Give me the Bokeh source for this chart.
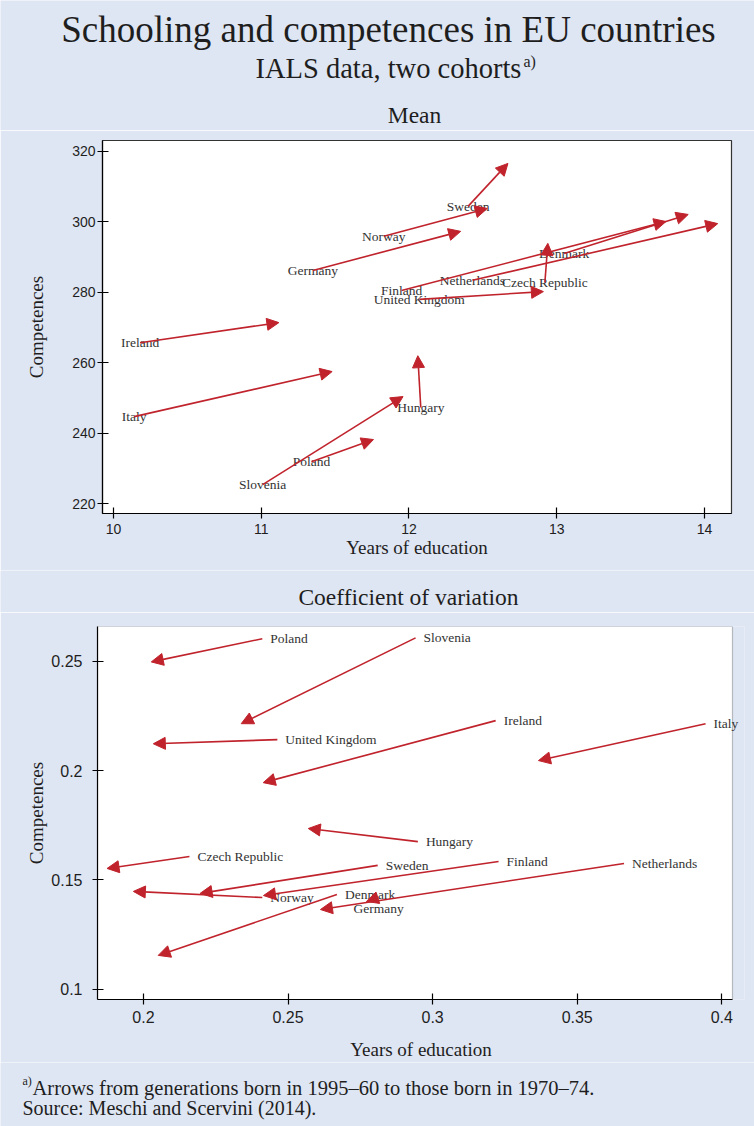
from bokeh.plotting import figure
from bokeh.layouts import column
from bokeh.models import (ColumnDataSource, Range1d, FixedTicker, Arrow, NormalHead, LabelSet,
                          BoxAnnotation)
from bokeh.core.properties import value
from bokeh.embed import file_html
from bokeh.resources import INLINE

# ---------------- data ----------------
mean_countries = ["Sweden", "Norway", "Germany", "Denmark", "Finland", "Netherlands",
                  "Czech Republic", "United Kingdom", "Ireland", "Italy", "Hungary",
                  "Poland", "Slovenia"]
mean_edu_old = [12.40, 11.83, 11.35, 13.05, 11.95, 12.43, 12.92, 12.07, 10.18, 10.14, 12.08, 11.34, 11.01]
mean_edu_young = [12.67, 12.53, 12.35, 13.89, 13.74, 14.09, 12.94, 12.91, 11.12, 11.48, 12.06, 11.76, 11.96]
mean_comp_old = [304.4, 295.9, 286.2, 291.0, 280.5, 283.4, 282.8, 278.0, 265.7, 244.7, 247.3, 231.9, 225.4]
mean_comp_young = [316.6, 303.8, 297.3, 302.1, 300.1, 299.5, 293.9, 280.2, 271.4, 257.5, 262.0, 238.2, 250.4]

cv_countries = ["Poland", "Slovenia", "United Kingdom", "Ireland", "Italy", "Hungary",
                "Czech Republic", "Sweden", "Finland", "Netherlands", "Denmark", "Norway", "Germany"]
cv_edu_old = [0.2411, 0.2941, 0.2463, 0.3218, 0.3944, 0.2949, 0.2159, 0.2810, 0.3228, 0.3662, 0.2669, 0.2411, 0.2813]
cv_edu_young = [0.2027, 0.2338, 0.2034, 0.2414, 0.3366, 0.2570, 0.1874, 0.2196, 0.2415, 0.2612, 0.2051, 0.1965, 0.2771]
cv_comp_old = [0.2604, 0.2608, 0.2142, 0.2229, 0.2215, 0.1675, 0.1607, 0.1566, 0.1584, 0.1575, 0.1433, 0.1419, 0.1419]
cv_comp_young = [0.2498, 0.2215, 0.2123, 0.1945, 0.2046, 0.1735, 0.1552, 0.1438, 0.1428, 0.1364, 0.1154, 0.1447, 0.1401]

mean_x_ticks = [10, 11, 12, 13, 14]
mean_y_ticks = [220, 240, 260, 280, 300, 320]
cv_x_ticks = [0.2, 0.25, 0.3, 0.35, 0.4]
cv_x_labels = ["0.2", "0.25", "0.3", "0.35", "0.4"]
cv_y_ticks = [0.1, 0.15, 0.2, 0.25]
cv_y_labels = ["0.1", "0.15", "0.2", "0.25"]

# ---------------- style ----------------
BG = "#dfe6f3"
SERIF = "Liberation Serif"
SANS = "Liberation Sans"
RED = "#c0232c"
TXT = "#1e1e1e"
LBL = "#333333"
W = 754


def text_fig(h):
    p = figure(width=W, height=h, x_range=Range1d(0, W), y_range=Range1d(h, 0),
               output_backend="svg", toolbar_location=None, title=None,
               x_axis_location=None, y_axis_location=None,
               min_border_left=0, min_border_right=0, min_border_top=0, min_border_bottom=0)
    p.frame_align = False
    p.grid.visible = False
    p.outline_line_color = None
    p.background_fill_color = BG
    p.border_fill_color = BG
    return p


def txt(p, x, y, s, size, align="left", font=SERIF):
    p.text(x=[x], y=[y], text=[s], text_font=value(font), text_font_size=size,
           text_align=align, text_baseline="middle", text_color=TXT)


def panel(h, bl, br, bt, bb, xr, yr, tick_size):
    p = figure(width=W, height=h, x_range=Range1d(*xr), y_range=Range1d(*yr),
               output_backend="svg", toolbar_location=None, title=None,
               min_border_left=bl, min_border_right=br, min_border_top=bt, min_border_bottom=bb)
    p.frame_align = False
    p.background_fill_color = "white"
    p.border_fill_color = BG
    p.grid.grid_line_color = None
    p.outline_line_color = "#333333"
    p.outline_line_width = 1.2
    for ax in (p.xaxis[0], p.yaxis[0]):
        ax.axis_line_color = "black"
        ax.axis_line_width = 1.2
        ax.major_tick_line_color = "black"
        ax.major_tick_line_width = 1.2
        ax.minor_tick_line_color = None
        ax.major_tick_in = 6
        ax.major_tick_out = 5
        ax.major_label_text_font = SANS
        ax.major_label_text_font_size = tick_size
        ax.major_label_text_color = TXT
        ax.axis_label_text_font = SERIF
        ax.axis_label_text_font_style = "normal"
        ax.axis_label_text_font_size = "19px"
        ax.axis_label_text_color = TXT
    p.xaxis.axis_label = "Years of education"
    p.yaxis.axis_label = "Competences"
    return p


def arrows(p, src):
    p.add_layout(Arrow(end=NormalHead(size=12, fill_color=RED, line_color=RED, line_width=1),
                       x_start="x0", y_start="y0", x_end="x1", y_end="y1", source=src,
                       line_color=RED, line_width=1.6))


def labels(p, src, align, dx, dy):
    p.add_layout(LabelSet(x="x0", y="y0", text="name", source=src, x_offset=dx, y_offset=dy,
                          text_font=value(SERIF), text_font_size="13.5px", text_align=align,
                          text_baseline="middle", text_color=LBL))


# ---------------- header ----------------
hdr = text_fig(130)
txt(hdr, 388, 29, "Schooling and competences in EU countries", "37px", "center")
txt(hdr, 255, 68, "IALS data, two cohorts", "28.5px", "left")
txt(hdr, 523, 61, "a)", "16px", "left")
txt(hdr, 414, 114, "Mean", "23.5px", "center")

# ---------------- top panel: mean ----------------
top = panel(440, 102, 23, 10, 57, (9.926, 14.183), (217.2, 323.1), "14px")
top.xaxis.ticker = FixedTicker(ticks=mean_x_ticks)
top.yaxis.ticker = FixedTicker(ticks=mean_y_ticks)
top.yaxis.major_label_standoff = 2
top.xaxis.major_label_standoff = 5
top.yaxis.axis_label_standoff = 22
top.xaxis.axis_label_standoff = 0
msrc = ColumnDataSource(dict(x0=mean_edu_old, y0=mean_comp_old, x1=mean_edu_young,
                             y1=mean_comp_young, name=mean_countries))
labels(top, msrc, "center", 0, 0)
arrows(top, msrc)

# ---------------- middle header ----------------
mid = text_fig(42)
txt(mid, 408, 26, "Coefficient of variation", "23.5px", "center")

# ---------------- bottom panel: coefficient of variation ----------------
# the frame is widened by a few pixels so that a label at the right edge is not clipped;
# the visible plot box is drawn as a box annotation on the reference limits
cv_x_lo, cv_x_hi, cv_y_lo, cv_y_hi = 0.1841, 0.4037, 0.0952, 0.266
bot = panel(450, 97, 10, 14, 63, (cv_x_lo, cv_x_hi + 12 / 2888), (cv_y_lo, cv_y_hi), "16px")
bot.background_fill_color = BG
bot.outline_line_color = None
bot.add_layout(BoxAnnotation(left=cv_x_lo, right=cv_x_hi, bottom=cv_y_lo, top=cv_y_hi,
                             fill_color="white", fill_alpha=1.0, line_color="#333333",
                             line_width=1.2, level="underlay"))
bot.xaxis.bounds = (cv_x_lo, cv_x_hi)
bot.xaxis.ticker = FixedTicker(ticks=cv_x_ticks)
bot.yaxis.ticker = FixedTicker(ticks=cv_y_ticks)
bot.xaxis.major_label_overrides = dict(zip(cv_x_ticks, cv_x_labels))
bot.yaxis.major_label_overrides = dict(zip(cv_y_ticks, cv_y_labels))
bot.yaxis.major_label_standoff = 10
bot.xaxis.major_label_standoff = 6
bot.yaxis.axis_label_standoff = 1
bot.xaxis.axis_label_standoff = 13
csrc = ColumnDataSource(dict(x0=cv_edu_old, y0=cv_comp_old, x1=cv_edu_young,
                             y1=cv_comp_young, name=cv_countries))
gi = cv_countries.index("Germany")
keep = [i for i in range(len(cv_countries)) if i != gi]
lab_main = ColumnDataSource(dict(x0=[cv_edu_old[i] for i in keep], y0=[cv_comp_old[i] for i in keep],
                                 name=[cv_countries[i] for i in keep]))
lab_ger = ColumnDataSource(dict(x0=[cv_edu_old[gi]], y0=[cv_comp_old[gi]], name=[cv_countries[gi]]))
labels(bot, lab_main, "left", 8, 0)
labels(bot, lab_ger, "center", 0, -11)
arrows(bot, csrc)

# ---------------- footer ----------------
ftr = text_fig(64)
txt(ftr, 22, 18, "a)", "12px", "left")
txt(ftr, 32, 25, "Arrows from generations born in 1995\u201360 to those born in 1970\u201374.", "20.5px", "left")
txt(ftr, 22, 45, "Source: Meschi and Scervini (2014).", "20px", "left")

page = column(hdr, top, mid, bot, ftr, spacing=0)
open("out.html", "w").write(file_html(page, INLINE))
